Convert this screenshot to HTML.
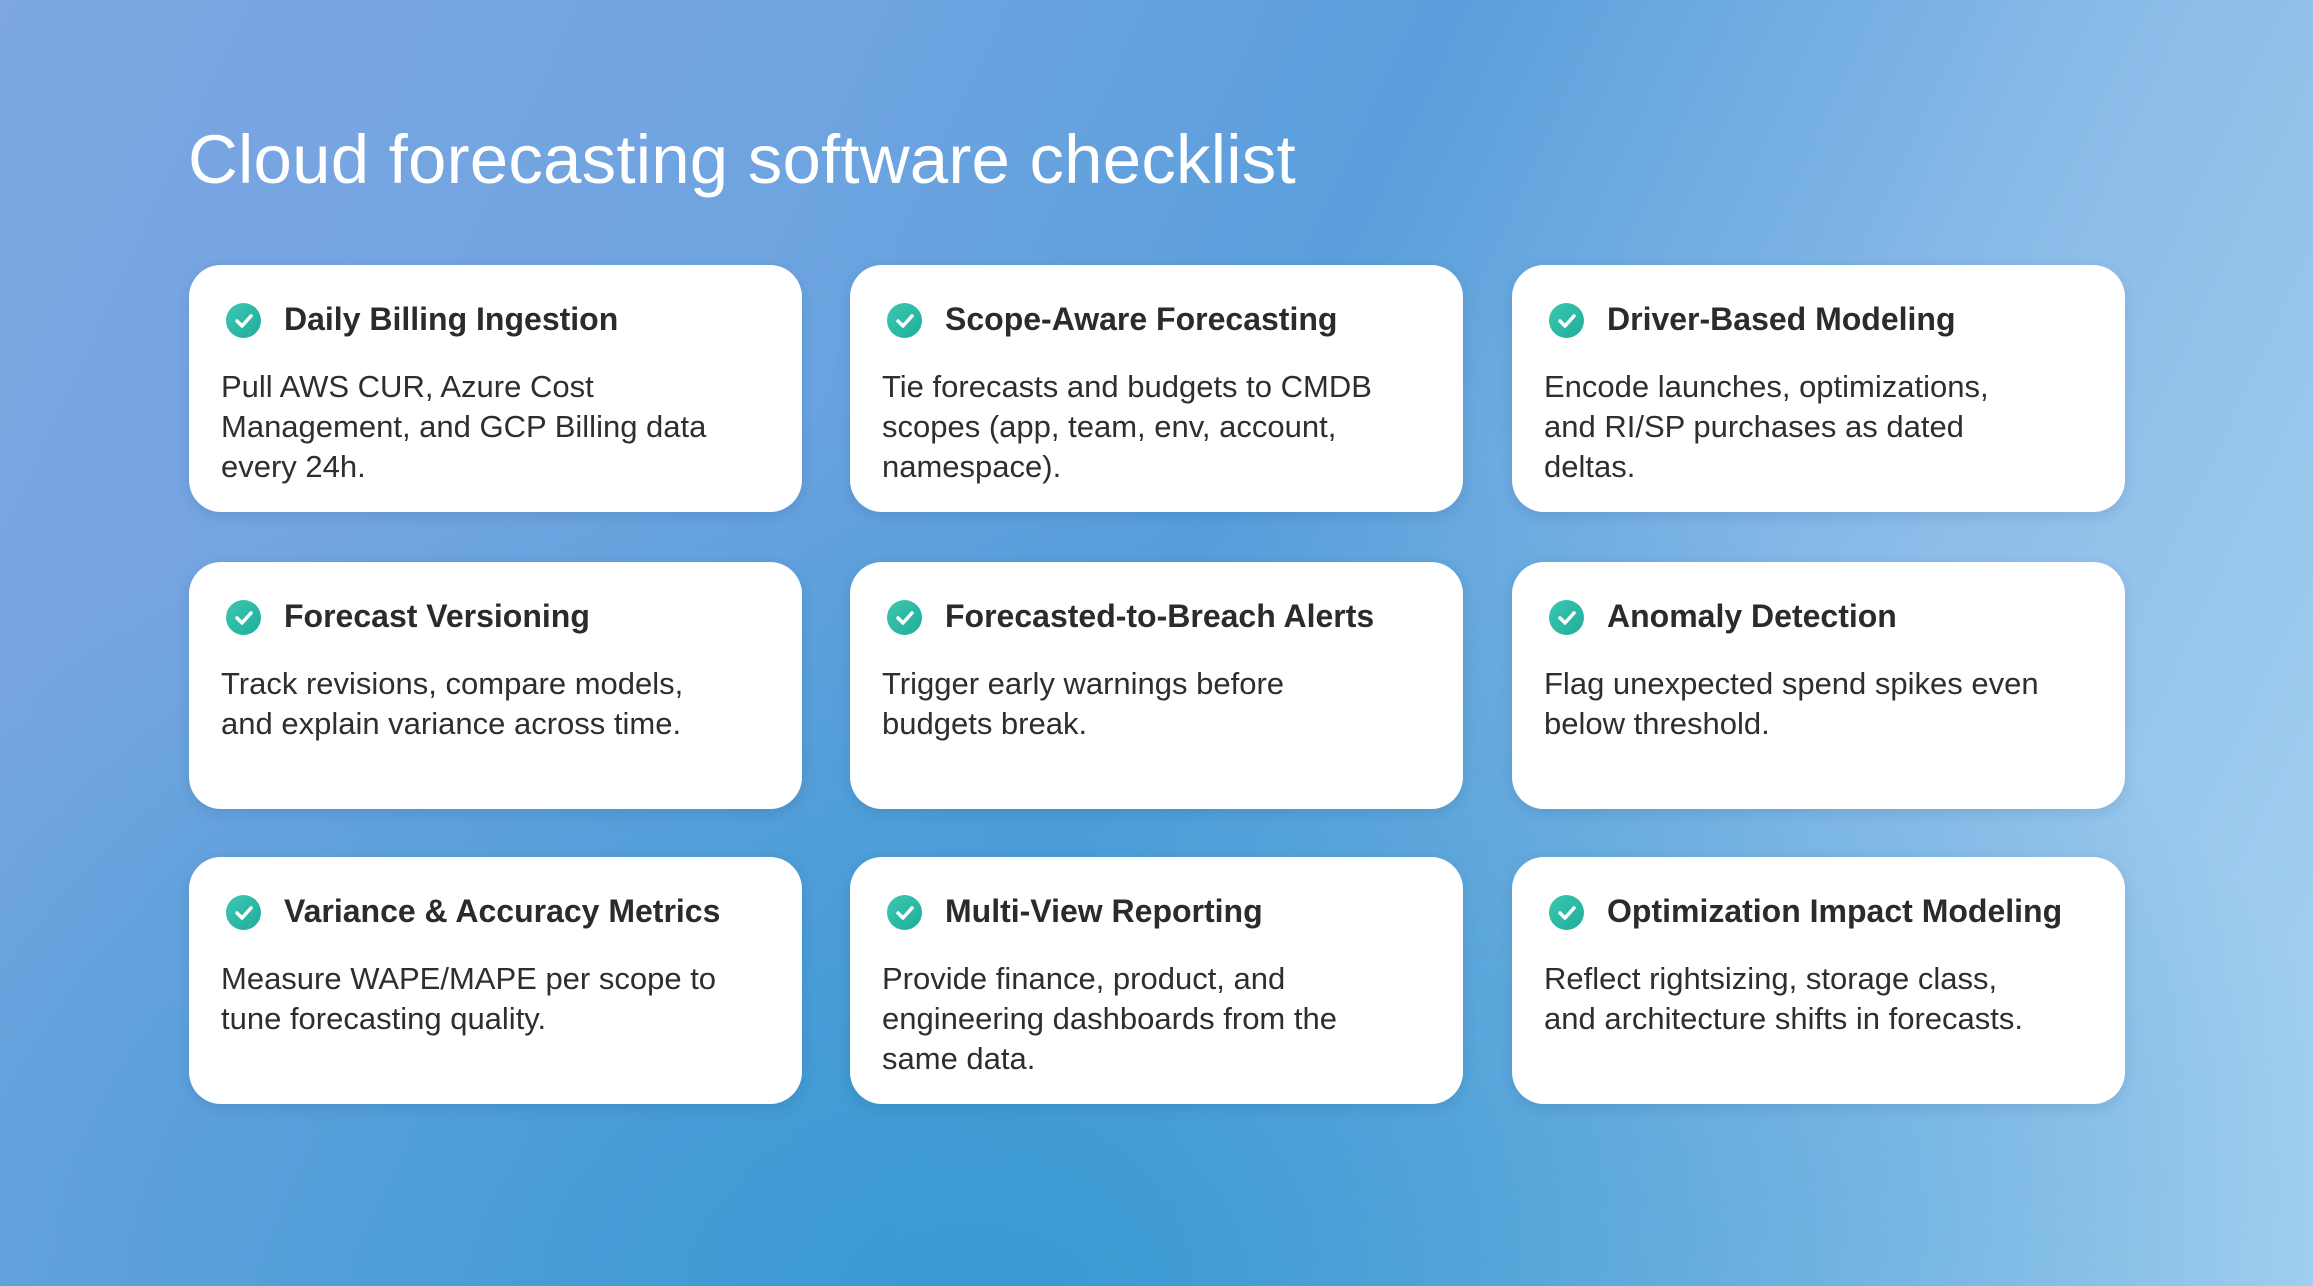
<!DOCTYPE html>
<html><head><meta charset="utf-8"><style>
html,body{margin:0;padding:0}
body{width:2313px;height:1286px;overflow:hidden;position:relative;font-family:"Liberation Sans",sans-serif;
background:radial-gradient(ellipse 1400px 900px at 1000px 1300px,#3a9ad2 0%,rgba(58,154,210,0) 100%),
linear-gradient(115deg,#7da6e2 0%,#6ea4e0 30%,#5a9fdc 50%,#8dbde9 75%,#a6d2f0 100%);}
h1{position:absolute;left:188px;top:120px;margin:0;font-size:69px;font-weight:normal;color:#fff;letter-spacing:0.2px}
.card{position:absolute;width:613px;height:247px;background:#fff;border-radius:32px;box-shadow:0 4px 14px rgba(0,40,90,0.12)}
.ic{position:absolute;left:37px;top:38px;width:35px;height:35px;border-radius:50%;background:linear-gradient(135deg,#3cc7b0,#1fae9c)}
.ic svg{position:absolute;left:0;top:0}
.h{position:absolute;left:95px;top:36px;font-size:32px;font-weight:bold;color:#2b2b2b;white-space:nowrap}
.b{position:absolute;left:32px;top:102px;width:580px;font-size:31px;line-height:40px;color:#2e2e2e;white-space:nowrap}
</style></head><body>
<h1>Cloud forecasting software checklist</h1>

<div class="card" style="left:189px;top:265px"><div class="ic"><svg width="35" height="35"><path d="M11 18l5 5 9-10" stroke="#fff" stroke-width="3.5" fill="none" stroke-linecap="round" stroke-linejoin="round"/></svg></div><div class="h">Daily Billing Ingestion</div><div class="b">Pull AWS CUR, Azure Cost<br>Management, and GCP Billing data<br>every 24h.</div></div>
<div class="card" style="left:850px;top:265px"><div class="ic"><svg width="35" height="35"><path d="M11 18l5 5 9-10" stroke="#fff" stroke-width="3.5" fill="none" stroke-linecap="round" stroke-linejoin="round"/></svg></div><div class="h">Scope-Aware Forecasting</div><div class="b">Tie forecasts and budgets to CMDB<br>scopes (app, team, env, account,<br>namespace).</div></div>
<div class="card" style="left:1512px;top:265px"><div class="ic"><svg width="35" height="35"><path d="M11 18l5 5 9-10" stroke="#fff" stroke-width="3.5" fill="none" stroke-linecap="round" stroke-linejoin="round"/></svg></div><div class="h">Driver-Based Modeling</div><div class="b">Encode launches, optimizations,<br>and RI/SP purchases as dated<br>deltas.</div></div>

<div class="card" style="left:189px;top:562px"><div class="ic"><svg width="35" height="35"><path d="M11 18l5 5 9-10" stroke="#fff" stroke-width="3.5" fill="none" stroke-linecap="round" stroke-linejoin="round"/></svg></div><div class="h">Forecast Versioning</div><div class="b">Track revisions, compare models,<br>and explain variance across time.</div></div>
<div class="card" style="left:850px;top:562px"><div class="ic"><svg width="35" height="35"><path d="M11 18l5 5 9-10" stroke="#fff" stroke-width="3.5" fill="none" stroke-linecap="round" stroke-linejoin="round"/></svg></div><div class="h">Forecasted-to-Breach Alerts</div><div class="b">Trigger early warnings before<br>budgets break.</div></div>
<div class="card" style="left:1512px;top:562px"><div class="ic"><svg width="35" height="35"><path d="M11 18l5 5 9-10" stroke="#fff" stroke-width="3.5" fill="none" stroke-linecap="round" stroke-linejoin="round"/></svg></div><div class="h">Anomaly Detection</div><div class="b">Flag unexpected spend spikes even<br>below threshold.</div></div>

<div class="card" style="left:189px;top:857px"><div class="ic"><svg width="35" height="35"><path d="M11 18l5 5 9-10" stroke="#fff" stroke-width="3.5" fill="none" stroke-linecap="round" stroke-linejoin="round"/></svg></div><div class="h">Variance &amp; Accuracy Metrics</div><div class="b">Measure WAPE/MAPE per scope to<br>tune forecasting quality.</div></div>
<div class="card" style="left:850px;top:857px"><div class="ic"><svg width="35" height="35"><path d="M11 18l5 5 9-10" stroke="#fff" stroke-width="3.5" fill="none" stroke-linecap="round" stroke-linejoin="round"/></svg></div><div class="h">Multi-View Reporting</div><div class="b">Provide finance, product, and<br>engineering dashboards from the<br>same data.</div></div>
<div class="card" style="left:1512px;top:857px"><div class="ic"><svg width="35" height="35"><path d="M11 18l5 5 9-10" stroke="#fff" stroke-width="3.5" fill="none" stroke-linecap="round" stroke-linejoin="round"/></svg></div><div class="h">Optimization Impact Modeling</div><div class="b">Reflect rightsizing, storage class,<br>and architecture shifts in forecasts.</div></div>
</body></html>
